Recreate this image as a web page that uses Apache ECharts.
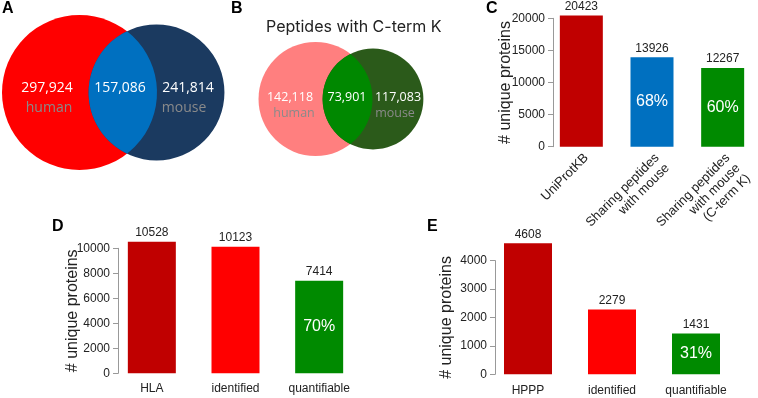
<!DOCTYPE html>
<html>
<head>
<meta charset="utf-8">
<script src="https://cdn.jsdelivr.net/npm/echarts@6/dist/echarts.min.js"></script>
<style>
  html, body { margin: 0; padding: 0; background: #fff; }
  #chart { width: 758px; height: 398px; }
</style>
</head>
<body>
<div id="chart"></div>
<script>
// Venn counts: [human only, shared, mouse only]
const vennA = [297924, 157086, 241814];
const vennB = [142118, 73901, 117083];
const vennNames = ['human', 'mouse'];

// Panel C
const catC = ['UniProtKB', 'Sharing peptides\nwith mouse', 'Sharing peptides\nwith mouse\n(C-term K)'];
const valC = [20423, 13926, 12267];
const pctC = [null, 68, 60];

// Panel D
const catD = ['HLA', 'identified', 'quantifiable'];
const valD = [10528, 10123, 7414];
const pctD = [null, null, 70];

// Panel E
const catE = ['HPPP', 'identified', 'quantifiable'];
const valE = [4608, 2279, 1431];
const pctE = [null, null, 31];

const barColors = ['#C00000', '#FF0000', '#008A00'];
const barColorsC = ['#C00000', '#0070C0', '#008A00'];

const chart = echarts.init(document.getElementById('chart'));

// dibuja un diagrama de Venn con dos círculos y la lente de intersección
function vennSeries(values, L) {
  return {
    type: 'custom',
    coordinateSystem: 'none',
    silent: true,
    data: [values],
    renderItem: function (params, api) {
      const hOnly = api.value(0), shared = api.value(1), mOnly = api.value(2);
      const r1 = (hOnly + shared) * L.k;
      const r2 = (mOnly + shared) * L.k;
      const x1 = L.cx, x2 = L.cx + L.d, y = L.cy;
      const a = (L.d * L.d + r1 * r1 - r2 * r2) / (2 * L.d);
      const h = Math.sqrt(r1 * r1 - a * a);
      const px = x1 + a;
      const lens = 'M' + px + ' ' + (y - h) + ' A' + r1 + ' ' + r1 + ' 0 0 1 ' + px + ' ' + (y + h) +
        ' A' + r2 + ' ' + r2 + ' 0 0 1 ' + px + ' ' + (y - h) + ' Z';
      const numFont = L.fs + 'px "Open Sans"';
      const txt = (s, x, yy, fill) => ({
        type: 'text',
        style: { text: s, x: x, y: yy, fill: fill, font: numFont, align: 'center', verticalAlign: 'middle' }
      });
      return {
        type: 'group',
        children: [
          { type: 'circle', shape: { cx: x1, cy: y, r: r1 }, style: { fill: L.c1 } },
          { type: 'circle', shape: { cx: x2, cy: y, r: r2 }, style: { fill: L.c2 } },
          { type: 'path', shape: { pathData: lens }, style: { fill: L.c3 } },
          txt(hOnly.toLocaleString('en-US'), x1 + L.hx, y + L.ny, '#fff'),
          txt(shared.toLocaleString('en-US'), L.sx, y + L.ny, '#fff'),
          txt(mOnly.toLocaleString('en-US'), x2 + L.mx, y + L.ny, '#fff'),
          txt(vennNames[0], x1 + L.hlx, y + L.ly, '#8a8a8a'),
          txt(vennNames[1], x2 + L.mlx, y + L.ly, '#8a8a8a')
        ]
      };
    }
  };
}

const axisText = { color: '#222', fontSize: 12, fontFamily: 'Liberation Sans' };

function yAxisFor(gridIndex, max, interval, offset, nameGap) {
  return {
    type: 'value', gridIndex: gridIndex, min: 0, max: max, interval: interval, offset: offset,
    name: '# unique proteins', nameLocation: 'middle', nameGap: nameGap, nameMoveOverlap: false,
    nameTextStyle: { color: '#222', fontSize: 16, fontFamily: 'Liberation Sans' },
    axisLine: { show: true, lineStyle: { color: '#999' } },
    axisTick: { show: true, length: 5, lineStyle: { color: '#999' } },
    axisLabel: Object.assign({ margin: 8, formatter: v => String(v) }, axisText),
    splitLine: { show: false }
  };
}

function xAxisFor(gridIndex, cats, extra) {
  return {
    type: 'category', gridIndex: gridIndex, data: cats,
    axisLine: { show: false }, axisTick: { show: false },
    axisLabel: Object.assign({ interval: 0 }, axisText, extra)
  };
}

function barSeries(idx, vals, pcts, colors, width) {
  return [
    {
      type: 'bar', xAxisIndex: idx, yAxisIndex: idx, barWidth: width, clip: false,
      data: vals.map((v, i) => ({ value: v, itemStyle: { color: colors[i] } })),
      label: { show: true, position: 'top', distance: 3, color: '#222', fontSize: 12, fontFamily: 'Liberation Sans' }
    },
    {
      type: 'bar', xAxisIndex: idx, yAxisIndex: idx, barWidth: width, barGap: '-100%', clip: false,
      data: vals.map(v => v),
      itemStyle: { color: 'rgba(0,0,0,0)' },
      label: {
        show: true, position: 'inside', color: '#fff', fontSize: 16, fontFamily: 'Liberation Sans',
        formatter: p => (pcts[p.dataIndex] == null ? '' : pcts[p.dataIndex] + '%')
      }
    }
  ];
}

const letterStyle = { fontSize: 16, fontWeight: 'bold', color: '#000', fontFamily: 'Liberation Sans' };

chart.setOption({
  animation: false,
  title: [
    { text: 'A', left: 2, top: 1, textStyle: letterStyle, padding: 0 },
    { text: 'B', left: 231, top: 1, textStyle: letterStyle, padding: 0 },
    { text: 'C', left: 486, top: 1, textStyle: letterStyle, padding: 0 },
    { text: 'D', left: 52, top: 219, textStyle: letterStyle, padding: 0 },
    { text: 'E', left: 427, top: 219, textStyle: letterStyle, padding: 0 },
    { text: 'Peptides with C-term K', left: 266, top: 19, padding: 0,
      textStyle: { fontSize: 16, fontWeight: 'normal', color: '#222', fontFamily: 'Inter' } }
  ],
  grid: [
    { left: 546, top: 18.3, width: 226.5, height: 128.4 },
    { left: 110, top: 248.3, width: 251, height: 125 },
    { left: 486, top: 260.6, width: 252, height: 113.7 }
  ],
  xAxis: [
    xAxisFor(0, catC, { rotate: 45, margin: 4, fontSize: 13, lineHeight: 14.5, align: 'right', verticalAlign: 'top' }),
    xAxisFor(1, catD, { margin: 9 }),
    xAxisFor(2, catE, { margin: 10 })
  ],
  yAxis: [
    yAxisFor(0, 20000, 5000, -7, 39),
    yAxisFor(1, 10000, 2000, -8, 37),
    yAxisFor(2, 4000, 1000, -9, 40)
  ],
  series: [
    vennSeries(vennA, { cx: 79.5, cy: 92.5, d: 77, k: 77.5 / 455010, c1: '#FF0000', c2: '#1B3A60', c3: '#0070C0',
      fs: 14, sx: 120, hx: -32.5, mx: 31.5, ny: -4, hlx: -30.5, mlx: 27.5, ly: 16 }),
    vennSeries(vennB, { cx: 315.5, cy: 99, d: 57.5, k: 57 / 216019, c1: '#FF7F7F', c2: '#2B5A1A', c3: '#008800',
      fs: 12.5, sx: 347, hx: -25.5, mx: 25, ny: -2, hlx: -21.5, mlx: 22, ly: 14 })
  ].concat(
    barSeries(0, valC, pctC, barColorsC, 43),
    barSeries(1, valD, pctD, barColors, 48),
    barSeries(2, valE, pctE, barColors, 48)
  )
});
</script>
</body>
</html>
